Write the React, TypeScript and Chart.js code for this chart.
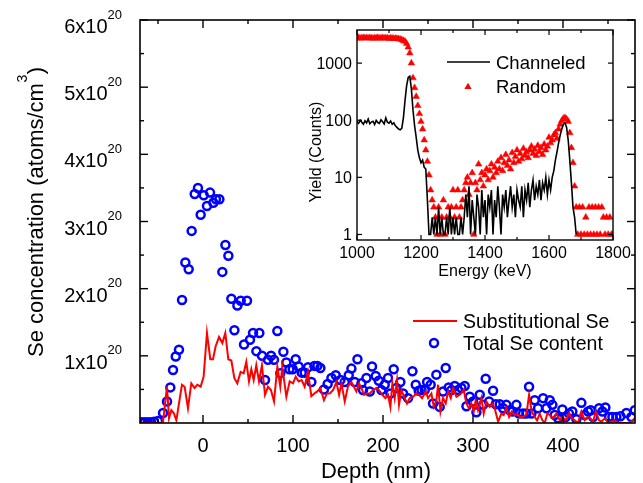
import React, { useEffect, useRef } from 'react';
import { Chart, registerables } from 'chart.js';

Chart.register(...registerables);

const W = 643;
const H = 483;
const FONT = '"Liberation Sans", Arial, Helvetica, sans-serif';

// ---------------- Main chart data (Se concentration, units of 1e20 atoms/cm3) ----------------
const depthTotal = [
  -68, -64.6, -61.2, -57.8, -54.4, -50, -44.4, -40, -36.3, -33.3, -30.3, -26.7, -23.3, -19.6, -15.9,
  -12.6, -9.2, -5.6, -2.6, 0.8, 4.4, 7.8, 11.5, 14.4, 18.2, 21.5, 24.9, 28.2, 31.5, 34.9, 38.2, 41.9,
  45.6, 48.9, 52.2, 55.6, 59.3, 62.6, 65.6, 68.9, 72.2, 75.6, 78.9, 82.6, 85.9, 89.3, 92.6, 96, 99.7,
  103, 106.3, 109.7, 113, 116.7, 120.4, 123.8, 127.1, 130.4, 134.4, 138.5, 142.7, 147.5, 152.7, 157.5,
  161.9, 164.9, 168.6, 171.6, 176, 177.8, 181.6, 185.3, 187.8, 191.9, 195.3, 198.2, 201.9, 205.6, 208.2,
  211.9, 214.9, 219.3, 222.3, 227.8, 232.7, 236.4, 239.7, 242.7, 246.4, 249, 253, 255.6, 259.3, 263,
  266.7, 269.7, 273, 276, 279.7, 283.4, 287.1, 290.8, 292.7, 296.4, 300.1, 303.8, 307.5, 311.2, 314.1,
  317.9, 322.3, 325.3, 329.7, 333.4, 337.1, 340.8, 343.8, 348.2, 351.2, 355.6, 359.3, 362.3, 364.9,
  368.6, 372.3, 377.9, 381.6, 385.3, 388.2, 390.8, 394.5, 399.3, 403, 406.7, 410.4, 414.9, 420.4, 424.1,
  427.9, 430.8, 433.4, 440.1, 443.8, 447.1, 451.2, 454.9, 459.3, 463.8, 470.4, 476, 479.7,
];
const totalSe = [
  0.01, 0.01, 0.01, 0.01, 0.02, 0.03, 0.15, 0.32, 0.53, 0.79, 0.99, 1.09, 1.83, 2.39, 2.29,
  2.86, 3.41, 3.5, 3.1, 3.39, 3.23, 3.43, 3.28, 3.33, 3.33, 2.25, 2.65, 2.49, 1.85, 1.38, 1.75, 1.82,
  1.17, 1.82, 1.24, 1.34, 1.07, 1.34, 1.0, 0.64, 0.94, 1.0, 0.94, 1.37, 0.74, 1.06, 0.9, 0.8, 0.8,
  0.95, 0.84, 0.75, 0.75, 0.83, 0.61, 0.85, 0.85, 0.82, 0.5, 0.58, 0.67, 0.71, 0.64, 0.61,
  0.71, 0.81, 0.61, 0.95, 0.59, 0.49, 0.67, 0.47, 0.84, 0.7, 0.63, 0.49, 0.57, 0.67, 0.44,
  0.8, 0.52, 0.61, 0.44, 0.37, 0.77, 0.57, 0.48, 0.49, 0.49, 0.61, 0.57, 0.29, 0.72, 0.24,
  0.47, 0.82, 0.53, 0.49, 0.55, 0.49, 0.52, 0.55, 0.25, 0.39, 0.32, 0.16, 0.42, 0.27, 0.66,
  0.32, 0.48, 0.28, 0.28, 0.22, 0.27, 0.19, 0.17, 0.27, 0.14, 0.14, 0.14, 0.54, 0.14,
  0.34, 0.22, 0.37, 0.22, 0.34, 0.27, 0.12, 0.07, 0.2, 0.09, 0.14, 0.17, 0.055, 0.3, 0.12,
  0.17, 0.19, 0.09, 0.22, 0.17, 0.23, 0.09, 0.09, 0.09, 0.1, 0.15, 0.09, 0.19,
];

const depthSub = [
  -70, -47, -44.5, -40, -37.8, -35.2, -32.2, -29.6, -26.7, -23.4, -20.4, -16.7, -13, -9.3, -6.3, -2.6,
  0.7, 4.4, 8.1, 11.1, 14, 17.8, 21.5, 24.8, 28.1, 31.5, 34.8, 38.1, 41.8, 45.2, 48.1, 51.1, 53.7,
  56.3, 59.2, 62.2, 65.5, 68.9, 72.2, 75.5, 78.9, 82.6, 85.9, 88.1, 92.6, 96.3, 100, 103, 106.3,
  109.6, 113, 116.6, 120.4, 123.7, 127, 130.4, 134.4, 137.8, 140.8, 144.5, 148.2, 151.2, 153.8,
  157.5, 161.2, 164.9, 170.4, 173.4, 176, 179, 182.3, 185.3, 189, 192.7, 195.6, 199.3, 202.7, 205.6,
  208.2, 210.4, 213, 215.6, 217.8, 220.4, 224.1, 226.7, 229.7, 233.4, 237.1, 240.1, 243.4, 247.5,
  250.1, 253.8, 256.4, 259.3, 261.2, 263.8, 266.7, 269.7, 272.3, 275.3, 277.9, 281.6, 285.3, 289.7,
  292.7, 295.3, 298.2, 300.8, 303, 305.6, 309.3, 311.9, 314.9, 318.6, 321.6, 324.1, 327.9, 331.5,
  334.1, 337.1, 340.1, 343, 346, 349, 351.9, 355.6, 359.3, 362.3, 365.3, 368.6, 371.2, 374.1, 377.1,
  379.7, 382.7, 385.3, 389, 392.7, 396.4, 399.3, 403, 406.7, 410.1, 413, 416.7, 420.4, 424.1, 427.9,
  430.4, 433.4, 436.4, 440.1, 442.7, 446.4, 450.1, 453.8, 457.5, 461.2, 464.9, 468.6, 472.3, 476, 479.7,
];
const substitutionalSe = [
  0, 0, 0.01, 0.54, 0.07, 0.19, 0.14, 0.04, 0.29, 0.57, 0.54, 0.22, 0.59, 0.52, 0.57, 0.54,
  0.69, 1.34, 0.95, 0.95, 1.14, 1.28, 1.19, 1.34, 0.95, 0.93, 0.67, 0.59, 0.76, 0.74, 0.91, 0.62, 0.8,
  0.64, 0.86, 0.62, 0.86, 0.42, 0.54, 0.49, 0.32, 0.84, 0.54, 0.84, 0.39, 0.62, 0.59, 0.69, 0.62,
  0.64, 0.54, 0.76, 0.4, 0.44, 0.47, 0.52, 0.34, 0.44, 0.44, 0.49, 0.61, 0.42, 0.59,
  0.32, 0.55, 0.61, 0.47, 0.59, 0.52, 0.42, 0.44, 0.44, 0.49, 0.52, 0.49, 0.42, 0.37, 0.42,
  0.24, 0.59, 0.37, 0.64, 0.27, 0.49, 0.37, 0.29, 0.37, 0.39, 0.44, 0.42, 0.37, 0.47,
  0.37, 0.44, 0.24, 0.34, 0.57, 0.17, 0.37, 0.29, 0.47, 0.37, 0.52, 0.39, 0.42, 0.49,
  0.29, 0.22, 0.29, 0.17, 0.34, 0.19, 0.37, 0.14, 0.32, 0.24, 0.29, 0.22, 0.02, 0.14,
  0.12, 0.22, 0.09, 0.17, 0.12, 0.14, 0.09, 0.09, 0.12, 0.42, 0.17, 0.09, 0.04, 0.14, 0.04,
  0, 0.14, 0.12, 0.07, 0.14, 0.04, 0.09, 0.04, 0.14, 0.07, 0.04, 0, 0.17, 0.04, 0.09,
  0.07, 0.02, 0.17, 0.04, 0.02, 0.07, 0.02, 0.02, 0.04, 0, 0, 0, 0, 0.02, 0.07,
];

const xMajorTicks = [0, 100, 200, 300, 400];
const xMinorTicks = [-50, 50, 150, 250, 350, 450];
const yMajorTicks = [1, 2, 3, 4, 5, 6];
const yMinorTicks = [0.5, 1.5, 2.5, 3.5, 4.5, 5.5];
const yTickExponent = '20';

// ---------------- Inset data (RBS spectra) ----------------
const energy = [
  1000, 1005, 1010, 1015, 1020, 1025, 1030, 1035, 1040, 1045, 1050, 1055, 1060, 1065, 1070, 1075,
  1080, 1085, 1090, 1095, 1100, 1105, 1110, 1115, 1120, 1125, 1130, 1135, 1140, 1145, 1150, 1155,
  1160, 1165, 1170, 1175, 1180, 1185, 1190, 1195, 1200, 1205, 1210, 1215, 1220, 1225, 1230, 1235,
  1240, 1245, 1250, 1255, 1260, 1265, 1270, 1275, 1280, 1285, 1290, 1295, 1300, 1305, 1310, 1315,
  1320, 1325, 1330, 1335, 1340, 1345, 1350, 1355, 1360, 1365, 1370, 1375, 1380, 1385, 1390, 1395,
  1400, 1405, 1410, 1415, 1420, 1425, 1430, 1435, 1440, 1445, 1450, 1455, 1460, 1465, 1470, 1475,
  1480, 1485, 1490, 1495, 1500, 1505, 1510, 1515, 1520, 1525, 1530, 1535, 1540, 1545, 1550, 1555,
  1560, 1565, 1570, 1575, 1580, 1585, 1590, 1595, 1600, 1605, 1610, 1615, 1620, 1625, 1630, 1635,
  1640, 1645, 1650, 1655, 1660, 1665, 1670, 1675, 1680, 1685, 1690, 1695, 1700, 1705, 1710, 1715,
  1720, 1725, 1730, 1735, 1740, 1745, 1750, 1755, 1760, 1765, 1770, 1775, 1780, 1785, 1790, 1795,
  1800,
];
const randomYield = [
  2750, 2800, 2720, 2760, 2790, 2740, 2770, 2730, 2780, 2750, 2710, 2760, 2740, 2790, 2720, 2750,
  2770, 2730, 2760, 2740, 2700, 2750, 2720, 2690, 2710, 2680, 2660, 2620, 2560, 2480, 2400, 2200,
  1900, 1500, 1000, 550, 370, 260, 180, 130, 95, 70, 45, 30, 19, 11, 6, 4,
  3, 2, 1, 3, 1, 2, 4, 1, 2, 3, 2, 3, 6, 2, 3, 6,
  2, 3, 4, 6, 8, 10, 5, 8, 12, 1, 8, 6, 17, 9, 12, 7,
  11, 14, 9, 13, 17, 10, 15, 12, 19, 14, 22, 13, 18, 25, 16, 20,
  14, 27, 18, 23, 30, 19, 26, 21, 32, 24, 28, 22, 30, 35, 26, 31,
  24, 36, 28, 33, 25, 38, 30, 35, 50, 40, 45, 55, 60, 48, 70, 85,
  98, 108, 110, 105, 95, 60, 33, 18, 7, 3, 1, 3, 1, 3, 1, 2,
  1, 3, 1, 3, 1, 3, 1, 3, 1, 3, 2, 1, 2, 1, 2, 1,
  1,
];
const channeledYield = [
  95, 88, 100, 92, 85, 98, 90, 105, 87, 93, 96, 84, 99, 91, 88, 102,
  94, 86, 110, 92, 89, 97, 85, 90, 80, 75, 70, 68, 72, 110, 220, 400,
  560, 590, 350, 150, 80, 50, 30, 22, 18, 20, 15, 14, 4, 1, 1, 2,
  1, 2, 1, 3, 1, 2, 1, 1, 2, 1, 3, 1, 2, 1, 2, 1,
  1, 2, 1, 2, 5, 2, 7, 1, 4, 2, 1, 5, 3, 1, 6, 2,
  4, 1, 5, 3, 6, 1, 4, 2, 7, 3, 1, 5, 3, 6, 2, 4,
  7, 3, 5, 2, 6, 4, 3, 7, 2, 6, 4, 8, 3, 6, 9, 4,
  7, 5, 9, 4, 8, 6, 10, 5, 9, 6, 10, 13, 20, 28, 40, 55,
  70, 85, 90, 75, 45, 20, 8, 3, 2, 1, null, null, null, null, null, null,
  null, null, null, null, null, null, null, null, null, null, null, null, null, null, null, null,
  null,
];

const insetXMajor = [1000, 1200, 1400, 1600, 1800];
const insetXMinor = [1100, 1300, 1500, 1700];
const insetYTicks = [1, 10, 100, 1000];

const font = (size: number) => `${size}px ${FONT}`;

function line(ctx: CanvasRenderingContext2D, x1: number, y1: number, x2: number, y2: number) {
  ctx.beginPath();
  ctx.moveTo(x1, y1);
  ctx.lineTo(x2, y2);
  ctx.stroke();
}

function triangle(ctx: CanvasRenderingContext2D, x: number, y: number, r: number) {
  let rad = 0;
  const step = (Math.PI * 2) / 3;
  ctx.beginPath();
  ctx.moveTo(x + Math.sin(rad) * r, y - Math.cos(rad) * r);
  rad += step;
  ctx.lineTo(x + Math.sin(rad) * r, y - Math.cos(rad) * r);
  rad += step;
  ctx.lineTo(x + Math.sin(rad) * r, y - Math.cos(rad) * r);
  ctx.closePath();
  ctx.fill();
}

const mainDecor = {
  id: 'mainDecor',
  afterDraw(chart: any) {
    const { ctx, chartArea: a } = chart;
    const xs = chart.scales.x;
    const ys = chart.scales.y;
    ctx.save();
    ctx.strokeStyle = '#000';
    ctx.lineWidth = 1.6;
    ctx.strokeRect(a.left, a.top, a.right - a.left, a.bottom - a.top);
    ctx.lineWidth = 1.4;
    for (const v of xMajorTicks) {
      const p = xs.getPixelForValue(v);
      line(ctx, p, a.bottom, p, a.bottom - 8);
      line(ctx, p, a.top, p, a.top + 8);
    }
    for (const v of xMinorTicks) {
      const p = xs.getPixelForValue(v);
      line(ctx, p, a.bottom, p, a.bottom - 4);
      line(ctx, p, a.top, p, a.top + 4);
    }
    for (const v of yMajorTicks) {
      const p = ys.getPixelForValue(v);
      line(ctx, a.left, p, a.left + 8, p);
      line(ctx, a.right, p, a.right - 8, p);
    }
    for (const v of yMinorTicks) {
      const p = ys.getPixelForValue(v);
      line(ctx, a.left, p, a.left + 4, p);
      line(ctx, a.right, p, a.right - 4, p);
    }

    ctx.fillStyle = '#000';
    ctx.textBaseline = 'alphabetic';
    // x tick labels
    ctx.font = font(20);
    ctx.textAlign = 'center';
    for (const v of xMajorTicks) {
      ctx.fillText(String(v), xs.getPixelForValue(v), a.bottom + 29);
    }
    // y tick labels with superscript exponent
    ctx.textAlign = 'right';
    const labelRight = a.left - 18;
    for (const v of yMajorTicks) {
      const p = ys.getPixelForValue(v);
      ctx.font = font(13);
      const sw = ctx.measureText(yTickExponent).width;
      ctx.fillText(yTickExponent, labelRight, p - 1.5);
      ctx.font = font(20);
      ctx.fillText(`${v}x10`, labelRight - sw, p + 7.5 + 5.5);
    }
    // x title
    ctx.textAlign = 'center';
    ctx.font = font(22);
    ctx.fillText('Depth (nm)', 376, 478);
    // y title
    ctx.save();
    ctx.translate(43, 357);
    ctx.rotate(-Math.PI / 2);
    ctx.textAlign = 'left';
    ctx.font = font(22);
    const t1 = 'Se concentration (atoms/cm';
    const w1 = ctx.measureText(t1).width;
    ctx.fillText(t1, 0, 0);
    ctx.font = font(14);
    const w3 = ctx.measureText('3').width;
    ctx.fillText('3', w1 + 0.5, -15.8);
    ctx.font = font(22);
    ctx.fillText(')', w1 + w3 + 1, 0);
    ctx.restore();

    // legend
    ctx.strokeStyle = '#ff0000';
    ctx.lineWidth = 2;
    line(ctx, 413, 321, 457, 321);
    ctx.strokeStyle = '#0000ff';
    ctx.lineWidth = 2.5;
    ctx.beginPath();
    ctx.arc(434, 343, 4, 0, Math.PI * 2);
    ctx.stroke();
    ctx.fillStyle = '#000';
    ctx.textAlign = 'left';
    ctx.font = font(19.5);
    ctx.fillText('Substitutional Se', 463, 328);
    ctx.fillText('Total Se content', 463, 350);
    ctx.restore();
  },
};

const insetDecor = {
  id: 'insetDecor',
  afterDraw(chart: any) {
    const { ctx, chartArea: a } = chart;
    const xs = chart.scales.x;
    const ys = chart.scales.y;
    ctx.save();
    ctx.strokeStyle = '#000';
    ctx.lineWidth = 1.4;
    ctx.strokeRect(a.left, a.top, a.right - a.left, a.bottom - a.top);
    ctx.lineWidth = 1.2;
    for (const v of insetXMajor) {
      const p = xs.getPixelForValue(v);
      line(ctx, p, a.bottom, p, a.bottom - 5);
      line(ctx, p, a.top, p, a.top + 5);
    }
    for (const v of insetXMinor) {
      const p = xs.getPixelForValue(v);
      line(ctx, p, a.bottom, p, a.bottom - 3);
      line(ctx, p, a.top, p, a.top + 3);
    }
    for (const v of insetYTicks) {
      const p = ys.getPixelForValue(v);
      line(ctx, a.left, p, a.left + 5, p);
      line(ctx, a.right, p, a.right - 5, p);
    }
    ctx.fillStyle = '#000';
    ctx.textBaseline = 'alphabetic';
    ctx.font = font(16);
    ctx.textAlign = 'center';
    for (const v of insetXMajor) {
      ctx.fillText(String(v), xs.getPixelForValue(v), a.bottom + 18);
    }
    ctx.textAlign = 'right';
    for (const v of insetYTicks) {
      ctx.fillText(String(v), a.left - 5, ys.getPixelForValue(v) + 5.8);
    }
    ctx.textAlign = 'center';
    ctx.fillText('Energy (keV)', (a.left + a.right) / 2, a.bottom + 36);
    ctx.save();
    ctx.translate(321, 152);
    ctx.rotate(-Math.PI / 2);
    ctx.fillText('Yield (Counts)', 0, 0);
    ctx.restore();

    // legend
    ctx.strokeStyle = '#000';
    ctx.lineWidth = 1.6;
    line(ctx, 447, 62, 490, 62);
    ctx.fillStyle = '#ff0000';
    triangle(ctx, 468, 87, 4.2);
    ctx.fillStyle = '#000';
    ctx.textAlign = 'left';
    ctx.font = font(18.5);
    ctx.fillText('Channeled', 496, 68.6);
    ctx.fillText('Random', 496, 92.6);
    ctx.restore();
  },
};

export default function App() {
  const mainRef = useRef<HTMLCanvasElement>(null);
  const insetRef = useRef<HTMLCanvasElement>(null);

  useEffect(() => {
    const mainChart = new Chart(mainRef.current as HTMLCanvasElement, {
      type: 'scatter',
      data: {
        datasets: [
          {
            label: 'Substitutional Se',
            data: depthSub.map((d, i) => ({ x: d, y: substitutionalSe[i] })),
            showLine: true,
            borderColor: '#ff0000',
            borderWidth: 2,
            pointRadius: 0,
            tension: 0,
            clip: 0,
          },
          {
            label: 'Total Se content',
            data: depthTotal.map((d, i) => ({ x: d, y: totalSe[i] })),
            showLine: false,
            pointStyle: 'circle',
            pointRadius: 4,
            pointBorderWidth: 2.5,
            pointBorderColor: '#0000ff',
            pointBackgroundColor: 'rgba(0,0,0,0)',
            borderColor: '#0000ff',
            backgroundColor: 'rgba(0,0,0,0)',
            clip: 0,
          },
        ],
      } as any,
      options: {
        animation: false,
        responsive: false,
        maintainAspectRatio: false,
        events: [],
        layout: { padding: { left: 0, right: 8, top: 20, bottom: 0 } },
        plugins: { legend: { display: false }, tooltip: { enabled: false }, title: { display: false } },
        scales: {
          x: {
            type: 'linear',
            min: -70,
            max: 480,
            ticks: { display: false },
            grid: { display: false },
            border: { display: false },
            afterFit: (s: any) => {
              s.height = 60;
            },
          },
          y: {
            type: 'linear',
            min: 0,
            max: 6,
            ticks: { display: false },
            grid: { display: false },
            border: { display: false },
            afterFit: (s: any) => {
              s.width = 140;
            },
          },
        },
      } as any,
      plugins: [mainDecor],
    });

    const insetChart = new Chart(insetRef.current as HTMLCanvasElement, {
      type: 'scatter',
      data: {
        datasets: [
          {
            label: 'Channeled',
            data: energy.map((e, i) => ({ x: e, y: channeledYield[i] })),
            showLine: true,
            borderColor: '#000000',
            borderWidth: 1.6,
            pointRadius: 0,
            tension: 0,
            spanGaps: false,
            clip: 0,
          },
          {
            label: 'Random',
            data: energy.map((e, i) => ({ x: e, y: randomYield[i] })),
            showLine: false,
            pointStyle: 'triangle',
            pointRadius: 3.8,
            pointBorderWidth: 0.5,
            pointBorderColor: '#ff0000',
            pointBackgroundColor: '#ff0000',
            clip: 0,
          },
        ],
      } as any,
      options: {
        animation: false,
        responsive: false,
        maintainAspectRatio: false,
        events: [],
        layout: { padding: { left: 0, right: 30, top: 30, bottom: 242 } },
        plugins: { legend: { display: false }, tooltip: { enabled: false }, title: { display: false } },
        scales: {
          x: {
            type: 'linear',
            min: 1000,
            max: 1800,
            ticks: { display: false },
            grid: { display: false },
            border: { display: false },
            afterFit: (s: any) => {
              s.height = 1;
            },
          },
          y: {
            type: 'logarithmic',
            min: 0.8,
            max: 3800,
            ticks: { display: false },
            grid: { display: false },
            border: { display: false },
            afterFit: (s: any) => {
              s.width = 357;
            },
          },
        },
      } as any,
      plugins: [insetDecor],
    });

    return () => {
      mainChart.destroy();
      insetChart.destroy();
    };
  }, []);

  const canvasStyle: React.CSSProperties = { position: 'absolute', left: 0, top: 0, width: W, height: H };
  return (
    <div style={{ position: 'absolute', left: 0, top: 0, width: W, height: H, background: '#ffffff' }}>
      <canvas ref={mainRef} width={W} height={H} style={canvasStyle} />
      <canvas ref={insetRef} width={W} height={H} style={canvasStyle} />
    </div>
  );
}
